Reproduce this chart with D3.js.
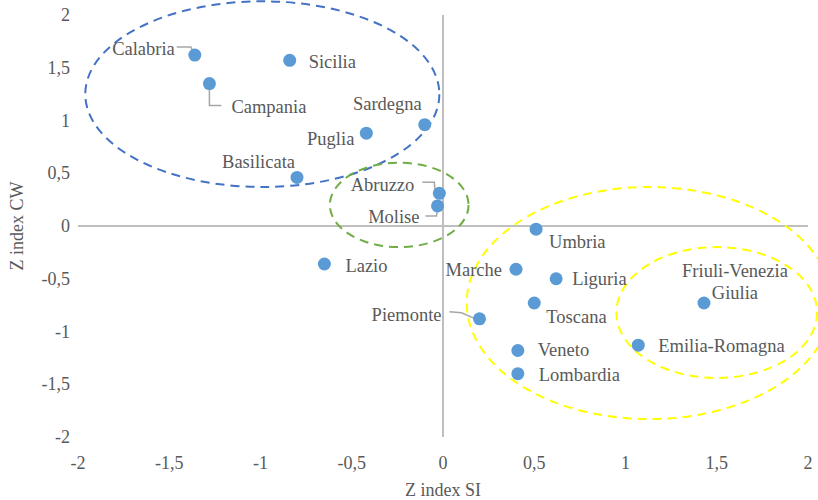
<!DOCTYPE html>
<html lang="it">
<head>
  <meta charset="UTF-8">
  <title>Z index SI / Z index CW</title>
  <script src="https://d3js.org/d3.v7.min.js"></script>
  <style>
    body { margin: 0; background: #fff; }
    text { font-family: "Liberation Serif", "Times New Roman", serif; fill: #595959; }
  </style>
</head>
<body>
<div id="chart"></div>
<script>
  // Data
  const regions = ["Calabria", "Campania", "Sicilia", "Sardegna", "Puglia", "Basilicata",
    "Abruzzo", "Molise", "Umbria", "Lazio", "Marche", "Liguria", "Toscana",
    "Friuli-Venezia Giulia", "Piemonte", "Emilia-Romagna", "Veneto", "Lombardia"];
  const zSI = [-1.36, -1.28, -0.84, -0.10, -0.42, -0.80, -0.02, -0.03, 0.51, -0.65,
    0.40, 0.62, 0.50, 1.43, 0.20, 1.07, 0.41, 0.41];
  const zCW = [1.62, 1.35, 1.57, 0.96, 0.88, 0.46, 0.31, 0.19, -0.03, -0.36,
    -0.41, -0.50, -0.73, -0.73, -0.88, -1.13, -1.18, -1.40];
  const tickValues = [-2, -1.5, -1, -0.5, 0, 0.5, 1, 1.5, 2];

  // Cluster ellipses (in data units)
  const clusters = [
    { cx: -0.99, cy: 1.25, rx: 0.97, ry: 0.88, color: "#4472C4" },
    { cx: -0.24, cy: 0.20, rx: 0.38, ry: 0.40, color: "#70AD47" },
    { cx: 1.13, cy: -0.73, rx: 1.0, ry: 1.10, color: "#FFFF00" },
    { cx: 1.50, cy: -0.82, rx: 0.55, ry: 0.62, color: "#FFFF00" }
  ];

  // label placement: [dx, dy, anchor, leader polyline (relative px)]
  const labelLayout = {
    "Calabria": [-20, -6, "end", [[-18, -8], [-4, -8], [-1, -2]]],
    "Campania": [22, 23, "start", [[0, 5], [0, 22], [12, 22]]],
    "Sicilia": [19, 2, "start"],
    "Sardegna": [-3, -21, "end"],
    "Puglia": [-12, 6, "end"],
    "Basilicata": [-2, -15, "end"],
    "Abruzzo": [-25, -8, "end", [[-17, -11], [-5, -11], [-4, 3]]],
    "Molise": [-18, 11, "end", [[-12, 10], [-1, 10], [0, 2]]],
    "Umbria": [13, 13, "start"],
    "Lazio": [21, 2, "start"],
    "Marche": [-14, 1, "end"],
    "Liguria": [16, 0, "start"],
    "Toscana": [12, 14, "start"],
    "Friuli-Venezia Giulia": [31, -32, "middle"],
    "Piemonte": [-38, -4, "end", [[-30, -7], [-18, -6], [-4, 0]]],
    "Emilia-Romagna": [20, 1, "start"],
    "Veneto": [20, 0, "start"],
    "Lombardia": [21, 1, "start"]
  };

  const width = 818, height = 500;
  const fmt = d => String(d).replace(".", ",");

  const svg = d3.select("#chart").append("svg")
    .attr("width", width)
    .attr("height", height);

  const x = d3.scaleLinear().domain([-2, 2]).range([78, 808]);
  const y = d3.scaleLinear().domain([-2, 2]).range([437, 15]);

  // zero axes
  svg.append("line")
    .attr("x1", x(-2)).attr("x2", x(2))
    .attr("y1", y(0)).attr("y2", y(0))
    .attr("stroke", "#BFBFBF").attr("stroke-width", 2);
  svg.append("line")
    .attr("x1", x(0)).attr("x2", x(0))
    .attr("y1", y(2)).attr("y2", y(-2))
    .attr("stroke", "#BFBFBF").attr("stroke-width", 2);

  // tick labels
  svg.selectAll(".xtick").data(tickValues).join("text")
    .attr("class", "xtick")
    .attr("x", d => x(d)).attr("y", 463)
    .attr("text-anchor", "middle")
    .attr("dominant-baseline", "central")
    .style("font-size", "18px")
    .text(fmt);
  svg.selectAll(".ytick").data(tickValues).join("text")
    .attr("class", "ytick")
    .attr("x", 70).attr("y", d => y(d))
    .attr("text-anchor", "end")
    .attr("dominant-baseline", "central")
    .style("font-size", "18px")
    .text(fmt);

  // axis titles
  svg.append("text")
    .attr("x", x(0)).attr("y", 490)
    .attr("text-anchor", "middle")
    .attr("dominant-baseline", "central")
    .style("font-size", "18px")
    .text("Z index SI");
  svg.append("text")
    .attr("transform", `translate(17,${y(0)}) rotate(-90)`)
    .attr("text-anchor", "middle")
    .attr("dominant-baseline", "central")
    .style("font-size", "18px")
    .text("Z index CW");

  // ellipses
  svg.selectAll(".cluster").data(clusters).join("ellipse")
    .attr("class", "cluster")
    .attr("cx", d => x(d.cx)).attr("cy", d => y(d.cy))
    .attr("rx", d => x(d.cx + d.rx) - x(d.cx))
    .attr("ry", d => y(d.cy - d.ry) - y(d.cy))
    .attr("fill", "none")
    .attr("stroke", d => d.color)
    .attr("stroke-width", 2)
    .attr("stroke-dasharray", "9,6");

  const points = regions.map((name, i) => ({ name, si: zSI[i], cw: zCW[i] }));

  // leader lines
  svg.selectAll(".leader").data(points.filter(d => labelLayout[d.name][3])).join("path")
    .attr("class", "leader")
    .attr("d", d => d3.line()(
      labelLayout[d.name][3].map(p => [x(d.si) + p[0], y(d.cw) + p[1]])))
    .attr("fill", "none")
    .attr("stroke", "#A6A6A6")
    .attr("stroke-width", 1.5);

  // markers
  svg.selectAll(".dot").data(points).join("circle")
    .attr("class", "dot")
    .attr("cx", d => x(d.si)).attr("cy", d => y(d.cw))
    .attr("r", 6.5)
    .attr("fill", "#5B9BD5");

  // labels
  const labels = svg.selectAll(".label").data(points).join("text")
    .attr("class", "label")
    .attr("x", d => x(d.si) + labelLayout[d.name][0])
    .attr("y", d => y(d.cw) + labelLayout[d.name][1])
    .attr("text-anchor", d => labelLayout[d.name][2])
    .attr("dominant-baseline", "central")
    .style("font-size", "18.5px");

  labels.each(function(d) {
    const t = d3.select(this);
    if (d.name === "Friuli-Venezia Giulia") {
      const cx = x(d.si) + labelLayout[d.name][0];
      t.append("tspan").attr("x", cx).text("Friuli-Venezia");
      t.append("tspan").attr("x", cx).attr("dy", 22).text("Giulia");
    } else {
      t.text(d.name);
    }
  });
</script>
</body>
</html>
